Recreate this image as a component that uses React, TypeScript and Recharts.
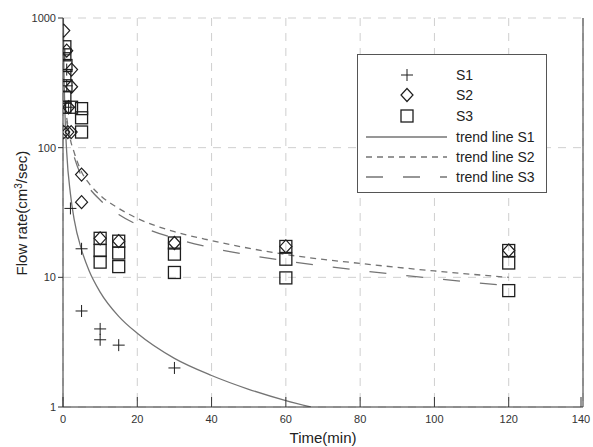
import React from 'react';
import { ComposedChart, Scatter, Line, XAxis, YAxis, CartesianGrid, Label } from 'recharts';

const xTicks = [0, 20, 40, 60, 80, 100, 120, 140];
const yTicks = [1, 10, 100, 1000];

const s1Points = [
  { t: 0.5, q: 520 }, { t: 1, q: 400 }, { t: 1, q: 300 }, { t: 1.5, q: 205 },
  { t: 2, q: 34 }, { t: 5, q: 16.6 }, { t: 5, q: 5.5 }, { t: 10, q: 4.0 },
  { t: 10, q: 3.3 }, { t: 15, q: 3.0 }, { t: 30, q: 2.0 },
];
const s2Points = [
  { t: 0.2, q: 800 }, { t: 1, q: 560 }, { t: 2.3, q: 400 }, { t: 2.3, q: 295 },
  { t: 1.5, q: 205 }, { t: 0.2, q: 132 }, { t: 1.3, q: 132 }, { t: 2.2, q: 132 },
  { t: 5, q: 62 }, { t: 5, q: 38 }, { t: 10, q: 20 }, { t: 15, q: 19 },
  { t: 30, q: 18.4 }, { t: 60, q: 17.3 }, { t: 120, q: 16.1 },
];
const s3Points = [
  { t: 0.5, q: 600 }, { t: 0.5, q: 520 }, { t: 0.8, q: 430 }, { t: 0.5, q: 360 },
  { t: 0.8, q: 300 }, { t: 0.5, q: 245 }, { t: 0.5, q: 205 }, { t: 2.3, q: 205 },
  { t: 5, q: 200 }, { t: 5, q: 170 }, { t: 5, q: 132 },
  { t: 10, q: 20 }, { t: 10, q: 16.1 }, { t: 10, q: 13.1 },
  { t: 15, q: 19 }, { t: 15, q: 15.4 }, { t: 15, q: 12.1 },
  { t: 30, q: 18.4 }, { t: 30, q: 15.1 }, { t: 30, q: 10.9 },
  { t: 60, q: 17.3 }, { t: 60, q: 13.8 }, { t: 60, q: 9.9 },
  { t: 120, q: 16.1 }, { t: 120, q: 12.9 }, { t: 120, q: 7.9 },
];
const trendS1 = [
  { t: 0.1, q: 1000 }, { t: 0.2, q: 520 }, { t: 0.5, q: 195 }, { t: 1, q: 92 },
  { t: 2, q: 44 }, { t: 3, q: 28 }, { t: 5, q: 16.3 }, { t: 7, q: 11.3 },
  { t: 10, q: 7.7 }, { t: 15, q: 5 }, { t: 20, q: 3.7 }, { t: 30, q: 2.37 },
  { t: 40, q: 1.75 }, { t: 50, q: 1.37 }, { t: 60, q: 1.12 }, { t: 66.7, q: 1 },
];
const trendS2 = [
  { t: 1, q: 170 }, { t: 2, q: 115 }, { t: 3, q: 92 }, { t: 5, q: 65 },
  { t: 7, q: 53 }, { t: 10, q: 43 }, { t: 15, q: 34 }, { t: 20, q: 28.5 },
  { t: 30, q: 22.5 }, { t: 40, q: 19.2 }, { t: 60, q: 15 }, { t: 80, q: 12.8 },
  { t: 100, q: 11.2 }, { t: 120, q: 10 },
];
const trendS3 = [
  { t: 1, q: 160 }, { t: 2, q: 108 }, { t: 3, q: 85 }, { t: 5, q: 60 },
  { t: 7, q: 49 }, { t: 10, q: 39.5 }, { t: 15, q: 30.5 }, { t: 20, q: 25.5 },
  { t: 30, q: 20 }, { t: 40, q: 16.9 }, { t: 60, q: 13.4 }, { t: 80, q: 11.3 },
  { t: 100, q: 9.8 }, { t: 120, q: 8.6 },
];

const FONT = '"Liberation Sans", Arial, sans-serif';
const MARK = '#1e1e1e';
const TREND = '#747474';

const PlusMark = ({ cx, cy }: any) => (
  <g stroke={MARK} strokeWidth={1}>
    <line x1={cx - 6} y1={cy} x2={cx + 6} y2={cy} />
    <line x1={cx} y1={cy - 6} x2={cx} y2={cy + 6} />
  </g>
);
const DiamondMark = ({ cx, cy }: any) => (
  <path d={`M${cx},${cy - 6.5} L${cx + 6},${cy} L${cx},${cy + 6.5} L${cx - 6},${cy} Z`} fill="none" stroke={MARK} strokeWidth={1.2} />
);
const SquareMark = ({ cx, cy }: any) => (
  <rect x={cx - 6} y={cy - 6} width={12} height={12} fill="none" stroke={MARK} strokeWidth={1.3} />
);

const BottomTick = (props: any) => {
  const { x, y, payload } = props;
  return (
    <g>
      <line x1={x} y1={y - 8} x2={x} y2={y - 18} stroke="#333" strokeWidth={1} />
      <text x={x} y={y} dy="0.71em" textAnchor="middle" fontSize={11} fontFamily={FONT} fill="#333">
        {payload.value}
      </text>
    </g>
  );
};

const YTitle = () => (
  <text x={27} y={213} transform="rotate(-90 27 213)" textAnchor="middle" fontSize={15} fontFamily={FONT} fill="#222">
    Flow rate(cm<tspan dy={-5} fontSize={10}>3</tspan><tspan dy={5}>/sec)</tspan>
  </text>
);

const Legend = () => {
  const rows = [21, 41, 62, 83, 103, 123];
  const labels = ['S1', 'S2', 'S3', 'trend line S1', 'trend line S2', 'trend line S3'];
  return (
    <svg width={190} height={139} style={{ position: 'absolute', left: 357, top: 54 }}>
      <rect x={0.5} y={0.5} width={189} height={138} fill="#fff" stroke="#555" />
      <PlusMark cx={50} cy={rows[0]} />
      <DiamondMark cx={50} cy={rows[1]} />
      <SquareMark cx={50} cy={rows[2]} />
      <line x1={9} y1={rows[3]} x2={90} y2={rows[3]} stroke={TREND} strokeWidth={1.3} />
      <line x1={9} y1={rows[4]} x2={90} y2={rows[4]} stroke={TREND} strokeWidth={1.3} strokeDasharray="6 5" />
      <line x1={9} y1={rows[5]} x2={90} y2={rows[5]} stroke={TREND} strokeWidth={1.3} strokeDasharray="17 20" />
      {labels.map((l, i) => (
        <text key={l} x={99} y={rows[i]} dy="0.35em" fontSize={14} fontFamily={FONT} fill="#222">{l}</text>
      ))}
    </svg>
  );
};

export default function App() {
  return (
    <div style={{ position: 'absolute', left: 0, top: 0, width: 593, height: 447, background: '#fff' }}>
      <ComposedChart width={593} height={447} margin={{ top: 18, right: 10, bottom: 0, left: 0 }}>
        <CartesianGrid stroke="#cfcfcf" strokeDasharray="8 7" />
        <XAxis
          dataKey="t" type="number" domain={[0, 140]} ticks={xTicks} allowDataOverflow
          height={40} tickLine={false} tickSize={0} tickMargin={8} tick={<BottomTick />}
          axisLine={{ stroke: '#333' }}
        >
          <Label value="Time(min)" position="insideBottom" offset={4} fontSize={15} fontFamily={FONT} fill="#222" />
        </XAxis>
        <XAxis
          xAxisId="top" orientation="top" type="number" domain={[0, 140]} ticks={xTicks}
          height={1} mirror tick={false} tickSize={10} axisLine={false} tickLine={{ stroke: '#333' }}
        />
        <YAxis
          dataKey="q" scale="log" type="number" domain={[1, 1000]} ticks={yTicks} allowDataOverflow
          width={63} tickSize={5} tickMargin={2} tickLine={{ stroke: '#333' }} axisLine={{ stroke: '#333' }}
          tick={{ fontSize: 11, fontFamily: FONT, fill: '#333' }}
        >
          <Label content={<YTitle />} />
        </YAxis>
        <YAxis
          yAxisId="r" orientation="right" scale="log" type="number" domain={[1, 1000]} ticks={yTicks}
          allowDataOverflow width={1} mirror tick={false} tickSize={10}
          axisLine={{ stroke: '#333' }} tickLine={{ stroke: '#333' }}
        />
        <Line data={trendS1} dataKey="q" type="monotone" stroke={TREND} strokeWidth={1.3} dot={false} isAnimationActive={false} />
        <Line data={trendS2} dataKey="q" type="monotone" stroke={TREND} strokeWidth={1.3} strokeDasharray="6 5" dot={false} isAnimationActive={false} />
        <Line data={trendS3} dataKey="q" type="monotone" stroke={TREND} strokeWidth={1.3} strokeDasharray="17 20" dot={false} isAnimationActive={false} />
        <Scatter data={s1Points} shape={(p: any) => <PlusMark cx={p.cx} cy={p.cy} />} isAnimationActive={false} />
        <Scatter data={s2Points} shape={(p: any) => <DiamondMark cx={p.cx} cy={p.cy} />} isAnimationActive={false} />
        <Scatter data={s3Points} shape={(p: any) => <SquareMark cx={p.cx} cy={p.cy} />} isAnimationActive={false} />
      </ComposedChart>
      <Legend />
    </div>
  );
}
